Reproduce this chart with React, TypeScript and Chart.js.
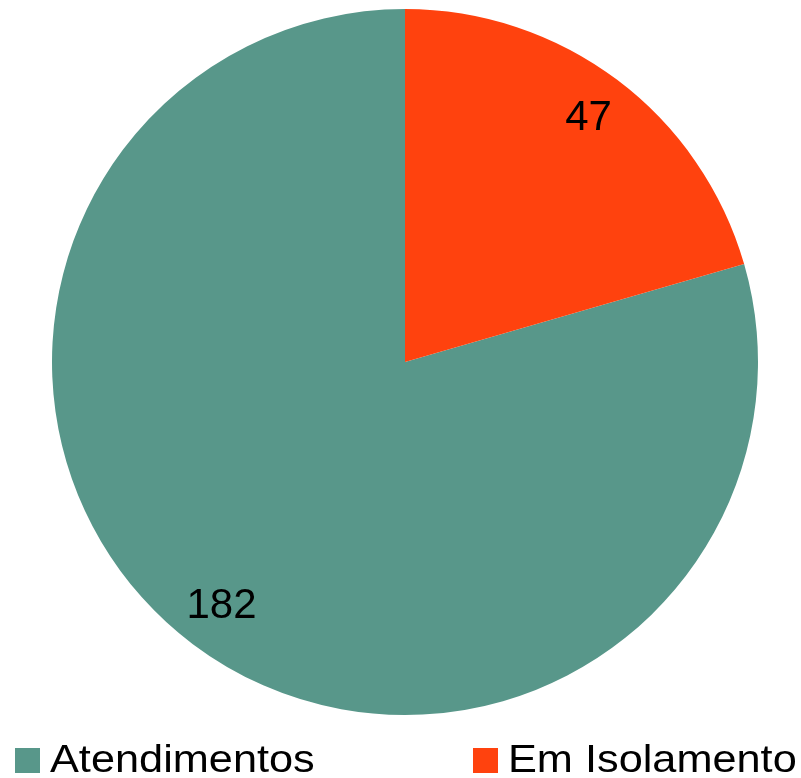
import React, { useEffect, useRef } from "react";
import { Chart, registerables } from "chart.js";

Chart.register(...registerables);

const categories = ["Atendimentos", "Em Isolamento"];
const values = [182, 47];
const colors = ["#58978a", "#ff420e"];

const FONT = "Liberation Sans, Arial, sans-serif";

const labelPlugin = {
  id: "sliceLabels",
  afterDatasetsDraw(chart: any) {
    const { ctx } = chart;
    const meta = chart.getDatasetMeta(0);
    ctx.save();
    ctx.fillStyle = "#000";
    ctx.font = `42px ${FONT}`;
    ctx.textAlign = "center";
    ctx.textBaseline = "middle";
    meta.data.forEach((arc: any, i: number) => {
      const { startAngle, endAngle, outerRadius, x, y } = arc.getProps(
        ["startAngle", "endAngle", "outerRadius", "x", "y"],
        true
      );
      const mid = (startAngle + endAngle) / 2;
      const r = outerRadius * 0.865;
      ctx.fillText(String(values[i]), x + Math.cos(mid) * r, y + Math.sin(mid) * r);
    });
    // legend
    const legendX = [15, 473];
    const sq = 25;
    const top = 748;
    ctx.textAlign = "left";
    ctx.textBaseline = "alphabetic";
    ctx.font = `39px ${FONT}`;
    categories.forEach((c, i) => {
      ctx.fillStyle = colors[i];
      ctx.fillRect(legendX[i], top, sq, sq);
      ctx.fillStyle = "#000";
      ctx.save();
      ctx.translate(legendX[i] + 35, top + 24);
      ctx.scale(1.11, 1);
      ctx.fillText(c, 0, 0);
      ctx.restore();
    });
    ctx.restore();
  },
};

export default function App() {
  const ref = useRef<HTMLCanvasElement>(null);
  useEffect(() => {
    document.body.style.margin = "0";
    const chart = new Chart(ref.current!, {
      type: "pie",
      data: {
        labels: categories,
        datasets: [
          {
            data: values,
            backgroundColor: colors,
            borderWidth: 0,
          },
        ],
      },
      options: {
        responsive: false,
        animation: false,
        rotation: (47 / 229) * 360,
        layout: { padding: { left: 52, right: 43, top: 9, bottom: 63 } },
        plugins: {
          legend: { display: false },
          tooltip: { enabled: false },
        },
      },
      plugins: [labelPlugin],
    });
    return () => chart.destroy();
  }, []);
  return (
    <div style={{ position: "absolute", left: 0, top: 0, width: 801, height: 778, background: "#fff" }}>
      <canvas ref={ref} width={801} height={778} />
    </div>
  );
}
